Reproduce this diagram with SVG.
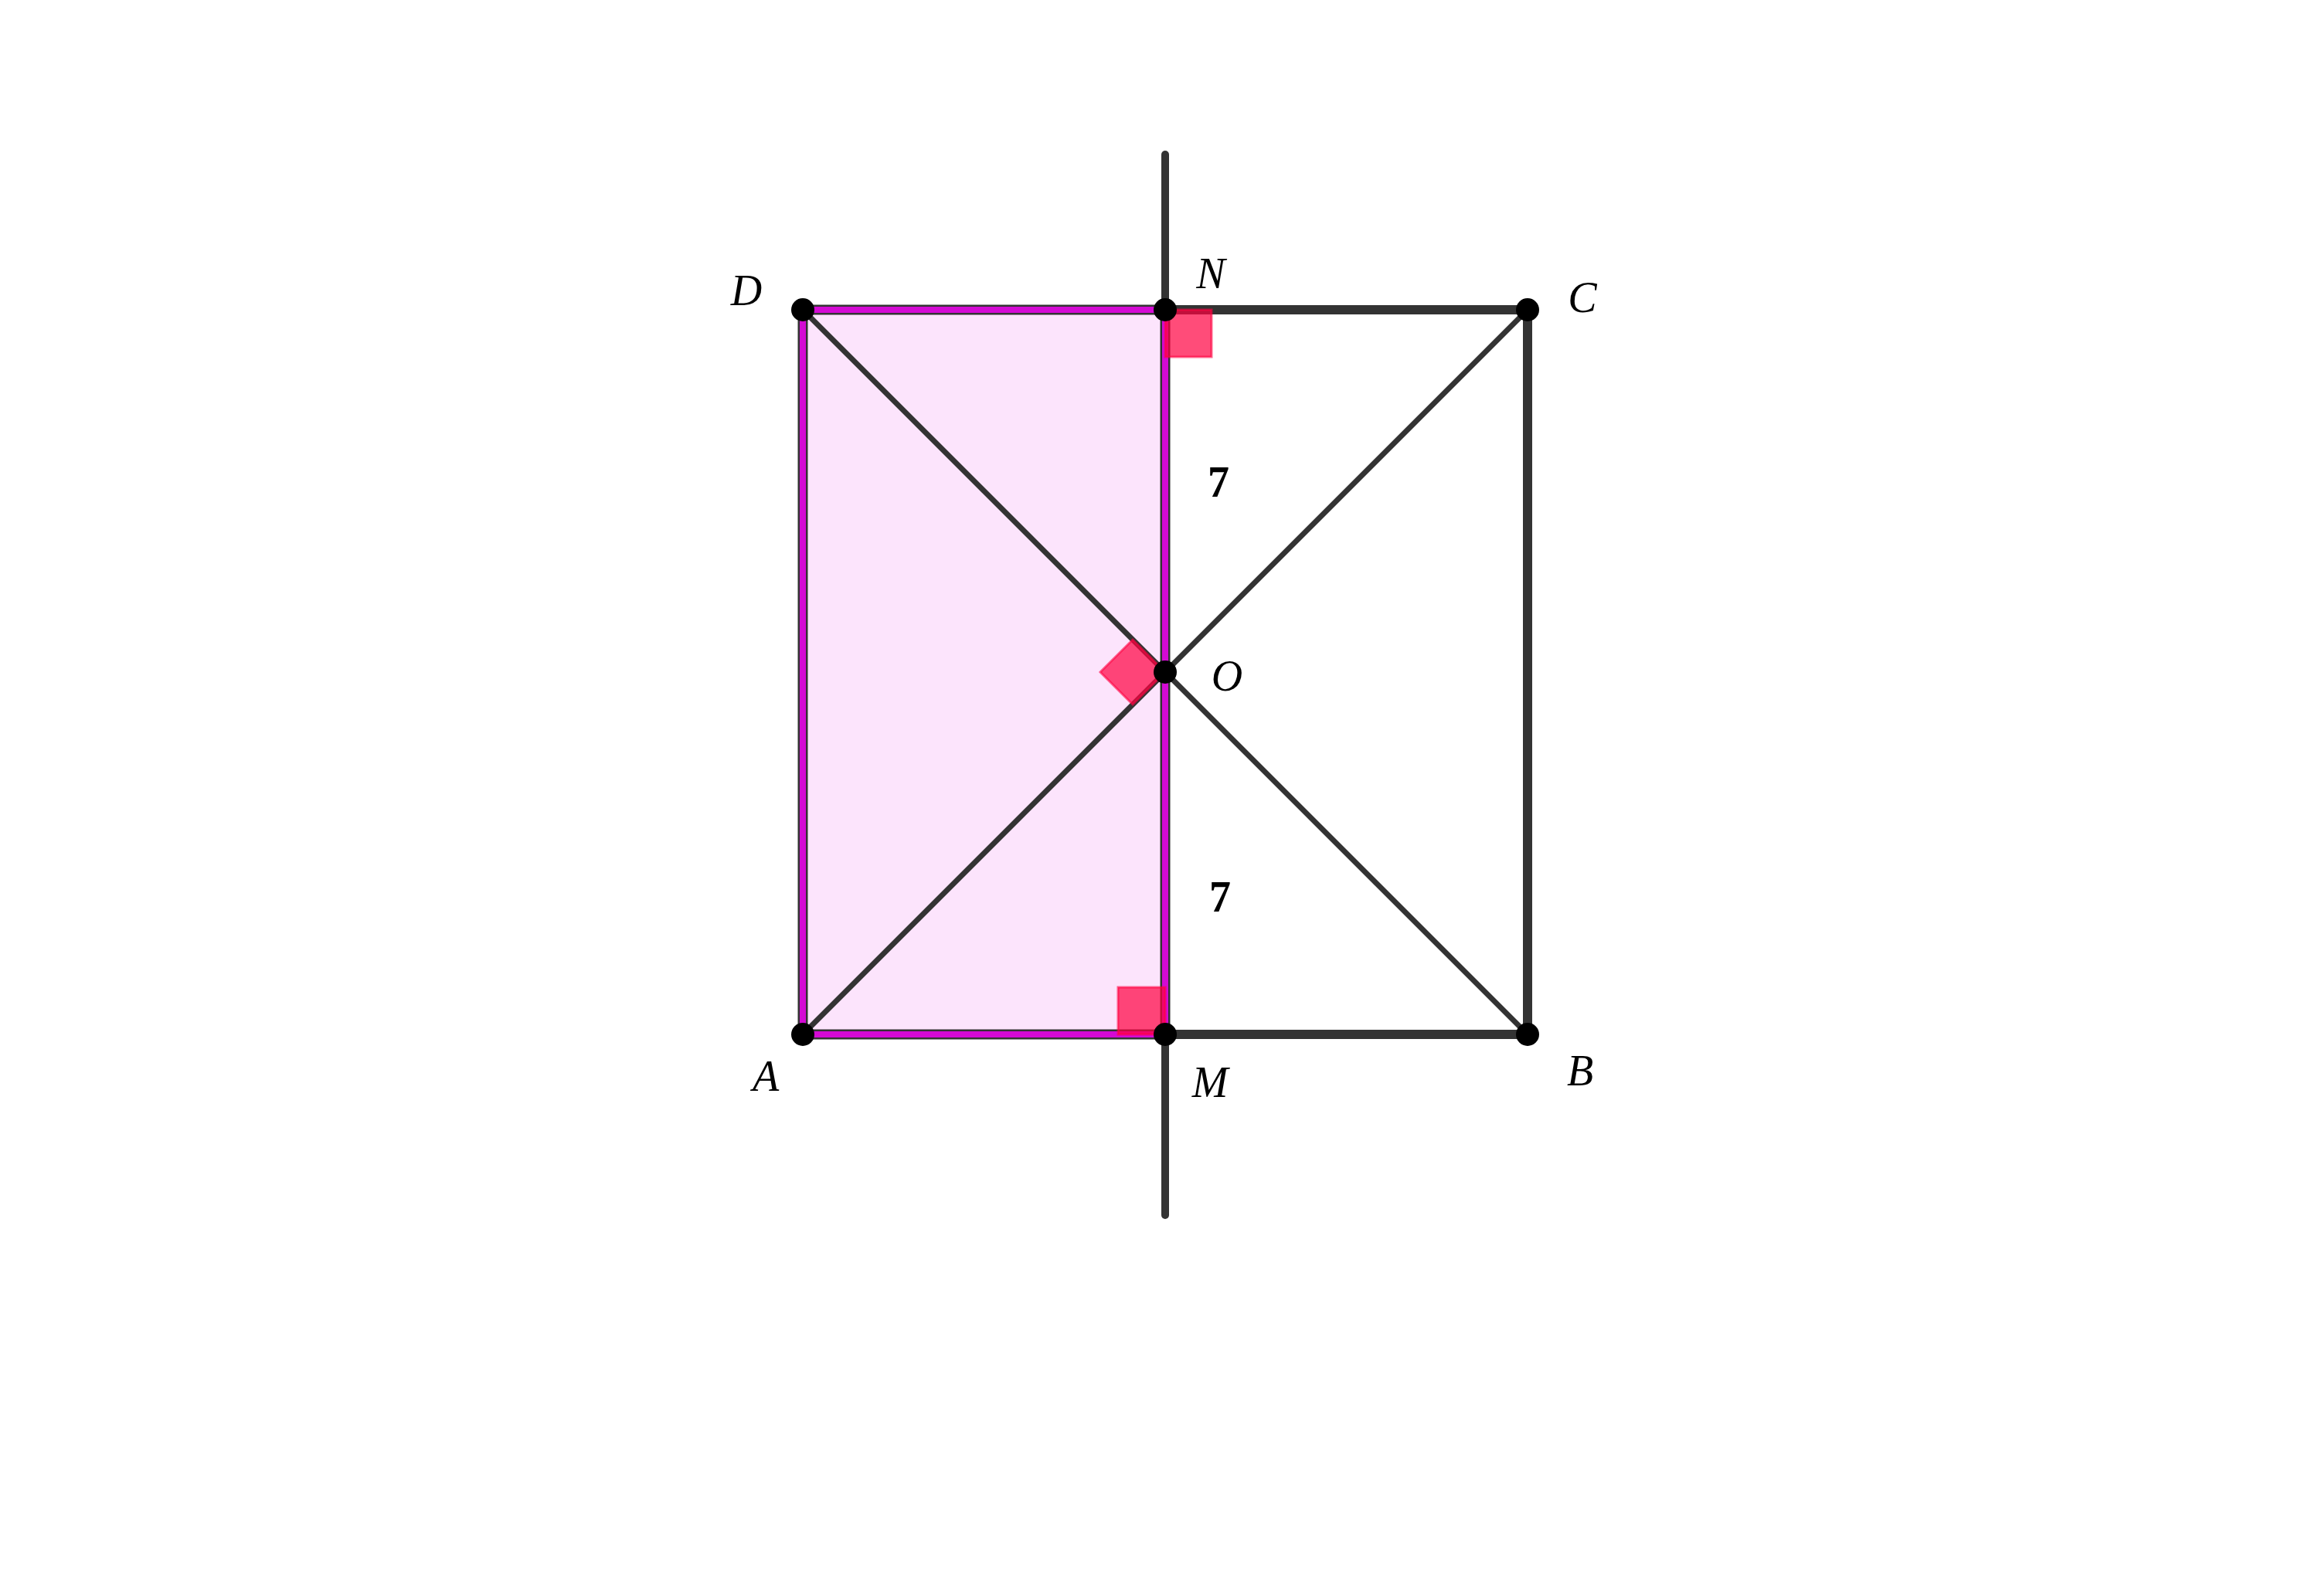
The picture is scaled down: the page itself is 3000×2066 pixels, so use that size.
<svg xmlns="http://www.w3.org/2000/svg" width="3000" height="2066" viewBox="0 0 3000 2066">
<style>
.lbl{font-family:"Liberation Serif","DejaVu Serif",serif;font-style:italic;font-size:56px;fill:#000;text-anchor:middle}
.num{font-family:"Liberation Serif","DejaVu Serif",serif;font-weight:bold;font-size:56px;fill:#000;text-anchor:middle}
.side{stroke:#333333;stroke-width:12;stroke-linecap:round;fill:none}
.diag{stroke:#333333;stroke-width:7;stroke-linecap:round;fill:none}
.perp{stroke:#333333;stroke-width:10;stroke-linecap:round;fill:none}
.edgeDark{stroke:#333333;stroke-width:13;stroke-linecap:butt;fill:none}
.edgeMag{stroke:#D40AD4;stroke-width:8;stroke-linecap:butt;fill:none}
.ra{fill:#FF0040;fill-opacity:0.7;stroke:#FF0040;stroke-opacity:0.6;stroke-width:3}
.pt{fill:#000}
</style>
<rect width="3000" height="2066" fill="#ffffff"/>
<g id="polygon-ADNM">
<polygon points="1039,401 1508,401 1508,1339 1039,1339" fill="#FCE4FC"/>
</g>
<g id="connectors">
<line class="perp" x1="1508" y1="200" x2="1508" y2="1573"/>
<line class="side" x1="1508" y1="401" x2="1977" y2="401"/>
<line class="side" x1="1977" y1="401" x2="1977" y2="1339"/>
<line class="side" x1="1508" y1="1339" x2="1977" y2="1339"/>
<line class="diag" x1="1039" y1="401" x2="1977" y2="1339"/>
<line class="diag" x1="1039" y1="1339" x2="1977" y2="401"/>
<g id="polygon-edges">
<line class="edgeDark" x1="1039" y1="401" x2="1508" y2="401"/>
<line class="edgeDark" x1="1039" y1="401" x2="1039" y2="1339"/>
<line class="edgeDark" x1="1039" y1="1339" x2="1508" y2="1339"/>
<line class="edgeDark" x1="1508" y1="401" x2="1508" y2="1339"/>
<line class="edgeMag" x1="1039" y1="401" x2="1508" y2="401"/>
<line class="edgeMag" x1="1039" y1="401" x2="1039" y2="1339"/>
<line class="edgeMag" x1="1039" y1="1339" x2="1508" y2="1339"/>
<line class="edgeMag" x1="1508" y1="401" x2="1508" y2="1339"/>
</g>
</g>
<g id="right-angles">
<rect class="ra" x="1508" y="401" width="60" height="61"/>
<rect class="ra" x="1447" y="1278" width="61" height="61"/>
<polygon class="ra" points="1508,870 1466,828 1424,870 1466,912"/>
</g>
<g id="lengths">
<text class="num" x="1577" y="643">7</text>
<text class="num" x="1579" y="1180">7</text>
</g>
<g id="node-D"><circle class="pt" cx="1039" cy="401" r="15"/><text class="lbl" x="966" y="395">D</text></g>
<g id="node-N"><circle class="pt" cx="1508" cy="401" r="15"/><text class="lbl" x="1567" y="373">N</text></g>
<g id="node-C"><circle class="pt" cx="1977" cy="401" r="15"/><text class="lbl" x="2048" y="404">C</text></g>
<g id="node-O"><circle class="pt" cx="1508" cy="870" r="15"/><text class="lbl" x="1588" y="894">O</text></g>
<g id="node-A"><circle class="pt" cx="1039" cy="1339" r="15"/><text class="lbl" x="991" y="1412">A</text></g>
<g id="node-M"><circle class="pt" cx="1508" cy="1339" r="15"/><text class="lbl" x="1566" y="1420">M</text></g>
<g id="node-B"><circle class="pt" cx="1977" cy="1339" r="15"/><text class="lbl" x="2045" y="1405">B</text></g>
</svg>
